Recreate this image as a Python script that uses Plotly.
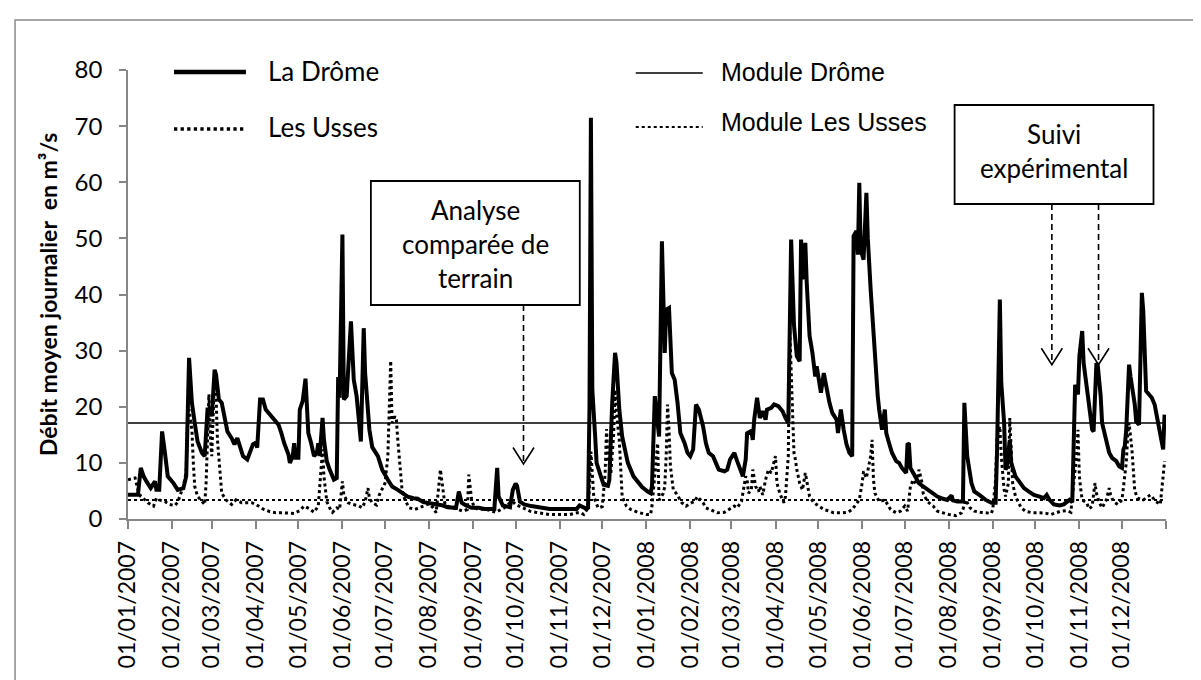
import pandas as pd
import plotly.graph_objects as go

# ---------------- data ----------------
START = "2007-01-01"
MONTH_LABELS = [f"01/{m:02d}/{y}" for y in (2007, 2008) for m in range(1, 13)]

# La Drôme : day offset from 01/01/2007 and daily mean discharge (m3/s)
drome_day = [0, 7, 9, 11, 13, 16, 19, 20, 22, 24, 26, 28, 32, 35, 39, 41, 43, 45, 47, 49,
             52, 54, 56, 58, 59, 61, 62, 64, 66, 68, 70, 73, 75, 77, 79, 81, 84, 86, 88, 90,
             91, 93, 95, 97, 100, 103, 106, 108, 110, 113, 114, 116, 117, 118, 120, 121, 123, 125, 126, 127,
             129, 131, 133, 134, 135, 137, 138, 140, 142, 145, 147, 148, 149, 151, 152, 154, 157, 159, 161, 163,
             164, 166, 167, 170, 172, 176, 179, 183, 186, 190, 194, 197, 201, 204, 208, 211, 215, 218, 222, 225,
             229, 231, 233, 235, 238, 242, 247, 251, 258, 260, 261, 264, 269, 271, 273, 274, 276, 279, 284, 290,
             297, 304, 311, 316, 318, 321, 323, 324, 325, 326, 327, 329, 330, 333, 335, 338, 339, 341, 343, 344,
             346, 348, 352, 356, 359, 362, 366, 368, 369, 371, 372, 374, 376, 378, 379, 381, 383, 385, 387, 389,
             392, 394, 396, 398, 400, 402, 405, 407, 409, 412, 414, 416, 420, 422, 424, 426, 427, 429, 431, 433,
             435, 436, 439, 440, 441, 443, 445, 447, 449, 450, 453, 455, 458, 461, 463, 465, 466, 467, 469, 470,
             471, 473, 474, 475, 477, 478, 480, 482, 484, 485, 487, 488, 490, 492, 494, 496, 499, 500, 502, 504,
             506, 508, 510, 511, 513, 514, 515, 516, 518, 520, 521, 523, 525, 527, 528, 529, 531, 533, 534, 536,
             538, 541, 543, 545, 548, 549, 550, 551, 554, 557, 560, 563, 567, 570, 574, 577, 580, 581, 584, 588,
             589, 591, 594, 596, 600, 604, 608, 611, 612, 613, 614, 615, 617, 618, 619, 621, 622, 625, 628, 631,
             635, 638, 642, 645, 647, 649, 652, 656, 659, 663, 665, 666, 667, 669, 670, 672, 673, 676, 678, 679,
             680, 682, 683, 685, 686, 689, 691, 693, 696, 698, 700, 701, 702, 703, 705, 706, 708, 709, 710, 712,
             714, 715, 717, 719, 721, 723, 725, 727, 729, 730]
drome_q = [4.3, 4.3, 9.1, 7.6, 6.7, 5.5, 6.7, 5.2, 5.2, 15.6, 11.8, 7.6, 6.4, 5.2, 5.5, 7.6, 28.7, 20.7, 17.1, 13.8,
           11.8, 11.2, 19.5, 19.5, 18.3, 26.6, 25.7, 21.3, 20.7, 18.3, 15.6, 14.4, 13.3, 14.4, 13.0, 11.2, 10.6, 11.8, 13.3, 13.6,
           12.7, 21.3, 21.3, 19.5, 18.6, 17.7, 16.8, 15.3, 13.5, 11.5, 10.0, 11.2, 13.5, 10.9, 10.9, 19.5, 21.0, 25.0, 20.7, 15.3,
           13.5, 11.2, 11.8, 13.5, 11.2, 18.0, 14.1, 10.3, 8.8, 7.0, 7.3, 25.3, 21.6, 50.7, 21.3, 21.9, 35.2, 24.8, 21.9, 16.5,
           13.8, 34.0, 26.0, 15.9, 12.8, 11.2, 8.8, 7.0, 5.8, 5.2, 4.6, 4.0, 3.7, 3.6, 3.0, 2.9, 2.6, 2.6, 2.4, 2.1,
           2.1, 2.0, 4.9, 2.9, 2.4, 2.0, 2.0, 1.8, 1.8, 9.1, 4.0, 2.4, 2.1, 5.2, 6.3, 5.9, 3.1, 2.6, 2.3, 2.0,
           1.8, 1.8, 1.8, 1.8, 2.4, 2.1, 1.8, 2.0, 20.0, 71.5, 23.0, 14.7, 10.0, 7.6, 6.1, 5.9, 7.0, 20.7, 29.6, 27.9,
           19.5, 14.7, 10.0, 7.6, 6.5, 5.7, 4.9, 4.6, 5.8, 21.9, 19.5, 14.7, 49.5, 29.6, 37.3, 37.6, 26.0, 24.8, 20.7, 15.3,
           13.5, 11.8, 11.2, 12.4, 20.4, 19.5, 16.5, 13.5, 11.8, 11.2, 10.0, 8.8, 8.5, 8.8, 10.6, 11.5, 11.8, 10.3, 8.8, 7.6,
           10.6, 15.3, 15.7, 14.1, 17.7, 21.6, 18.0, 19.2, 17.7, 19.5, 19.8, 20.4, 20.1, 19.2, 18.0, 17.1, 33.2, 49.8, 34.6, 32.0,
           29.0, 28.1, 49.8, 42.7, 49.2, 42.0, 32.6, 29.6, 25.4, 27.2, 23.6, 22.5, 26.0, 23.1, 20.7, 18.9, 17.7, 15.3, 19.5, 15.9,
           13.3, 11.8, 11.2, 50.4, 51.3, 47.1, 59.9, 48.0, 46.2, 58.1, 50.0, 40.9, 33.2, 23.6, 21.9, 19.5, 15.9, 19.5, 15.3, 13.5,
           11.8, 10.3, 10.0, 9.1, 8.2, 13.5, 13.3, 9.1, 7.6, 6.4, 5.8, 5.2, 4.6, 4.0, 3.6, 3.4, 4.2, 3.3, 3.1, 3.1,
           20.7, 11.2, 6.4, 4.9, 4.2, 3.4, 2.9, 2.9, 11.8, 28.7, 39.1, 24.2, 17.1, 8.8, 9.4, 14.1, 10.0, 7.6, 6.4, 5.5,
           4.8, 4.3, 4.0, 3.7, 4.3, 3.4, 2.6, 2.4, 2.6, 3.4, 3.0, 17.1, 23.9, 22.2, 29.0, 33.5, 27.8, 21.9, 17.1, 15.9,
           15.6, 27.8, 27.2, 21.9, 17.1, 13.5, 11.8, 10.9, 10.3, 9.4, 9.1, 12.4, 13.0, 15.9, 27.5, 25.4, 21.9, 20.4, 17.4, 16.8,
           40.3, 37.0, 22.8, 22.2, 21.6, 20.4, 17.4, 14.4, 12.4, 18.6]

# Les Usses
usses_day = [0, 5, 7, 9, 12, 14, 18, 20, 22, 26, 29, 33, 35, 37, 39, 41, 42, 43, 45, 46,
             47, 49, 52, 54, 55, 57, 58, 59, 61, 62, 63, 65, 66, 69, 73, 76, 80, 83, 87, 90,
             95, 100, 104, 109, 114, 117, 121, 124, 128, 131, 134, 136, 137, 138, 140, 142, 144, 147, 149, 151,
             152, 155, 158, 162, 165, 167, 169, 170, 172, 175, 177, 181, 183, 185, 186, 188, 189, 190, 192, 193,
             195, 198, 202, 205, 209, 212, 215, 217, 220, 222, 223, 225, 229, 232, 236, 239, 240, 242, 244, 247,
             251, 255, 259, 265, 269, 271, 273, 278, 283, 287, 292, 297, 302, 306, 311, 316, 319, 321, 324, 325,
             326, 327, 328, 331, 334, 336, 337, 338, 340, 342, 343, 344, 346, 348, 351, 354, 359, 365, 368, 369,
             370, 371, 372, 373, 374, 375, 377, 378, 379, 380, 381, 382, 384, 386, 390, 393, 397, 399, 401, 405,
             407, 411, 415, 420, 424, 427, 429, 432, 433, 435, 436, 437, 439, 440, 442, 444, 445, 447, 449, 451,
             453, 455, 456, 457, 459, 461, 462, 463, 465, 466, 468, 469, 470, 471, 473, 475, 477, 479, 480, 483,
             487, 490, 494, 497, 502, 507, 510, 515, 517, 518, 520, 521, 523, 524, 525, 526, 529, 533, 535, 537,
             541, 544, 547, 549, 551, 553, 555, 556, 557, 559, 560, 563, 567, 570, 574, 578, 583, 587, 588, 590,
             593, 596, 600, 604, 608, 609, 611, 612, 614, 615, 616, 617, 618, 620, 621, 622, 623, 625, 627, 629,
             632, 637, 642, 647, 650, 654, 657, 661, 664, 666, 668, 669, 670, 671, 672, 675, 677, 679, 681, 682,
             684, 686, 689, 691, 692, 694, 697, 700, 703, 704, 705, 707, 709, 711, 715, 720, 724, 727, 730]
usses_q = [7.0, 7.3, 5.2, 4.0, 3.4, 2.9, 2.3, 3.7, 3.4, 3.1, 2.6, 2.4, 3.0, 4.3, 5.8, 8.5, 18.3, 19.5, 15.9, 10.0,
           5.8, 4.0, 3.1, 2.6, 6.4, 22.2, 14.7, 11.2, 26.3, 21.9, 14.1, 7.6, 4.6, 3.4, 2.6, 3.4, 2.9, 2.9, 2.9, 2.6,
           1.8, 1.3, 1.1, 1.1, 1.0, 1.0, 1.5, 2.3, 1.8, 1.2, 2.3, 9.4, 12.4, 7.6, 3.1, 2.0, 1.2, 2.0, 1.7, 6.7,
           4.3, 2.9, 2.6, 2.4, 2.0, 3.1, 5.5, 3.7, 2.9, 2.5, 4.3, 6.4, 11.2, 28.2, 17.1, 18.3, 17.7, 14.1, 8.8, 5.2,
           3.4, 2.0, 1.7, 2.0, 2.3, 2.7, 2.0, 1.1, 8.8, 5.2, 2.9, 2.3, 2.0, 1.7, 1.4, 1.7, 7.9, 3.4, 2.0, 1.7,
           1.8, 1.5, 1.2, 2.0, 2.9, 3.1, 2.6, 2.0, 1.4, 1.2, 1.0, 0.8, 0.8, 0.8, 0.8, 1.1, 1.1, 0.8, 2.0, 6.0,
           12.0, 8.0, 4.0, 2.0, 2.2, 8.0, 16.0, 11.0, 8.0, 15.0, 23.0, 19.0, 14.0, 4.0, 2.3, 1.7, 1.2, 0.8, 0.8, 2.3,
           5.2, 7.6, 10.0, 13.5, 3.4, 3.7, 4.6, 5.8, 11.2, 20.4, 15.9, 9.4, 5.2, 4.6, 2.9, 2.3, 2.9, 3.1, 4.0, 2.9,
           2.0, 1.5, 1.1, 1.2, 1.8, 2.3, 2.0, 3.1, 4.6, 7.6, 7.0, 4.6, 5.2, 8.8, 5.8, 4.9, 5.8, 4.3, 7.0, 8.8,
           8.2, 10.0, 11.2, 6.4, 4.6, 3.4, 2.9, 4.0, 11.2, 34.0, 17.1, 11.8, 10.6, 8.8, 6.4, 5.2, 8.2, 5.2, 4.0, 2.9,
           2.3, 1.7, 1.4, 1.1, 1.1, 1.2, 1.7, 3.4, 6.4, 8.5, 7.3, 8.8, 11.2, 14.1, 7.0, 4.6, 3.1, 3.4, 2.6, 1.7,
           1.1, 1.4, 2.3, 1.4, 5.8, 7.0, 6.1, 7.0, 8.8, 6.7, 4.6, 3.1, 2.3, 1.4, 1.1, 0.8, 0.6, 1.1, 1.7, 3.4,
           2.0, 1.4, 1.2, 1.1, 1.0, 1.7, 7.0, 14.7, 16.5, 11.2, 7.6, 5.2, 4.0, 6.4, 18.0, 11.2, 6.4, 4.0, 2.9, 2.0,
           1.4, 1.1, 1.1, 1.0, 0.8, 1.1, 1.4, 1.5, 1.2, 6.4, 11.2, 15.9, 7.6, 5.2, 3.4, 2.9, 1.8, 2.3, 6.4, 4.6,
           2.9, 2.0, 3.4, 5.5, 4.3, 3.1, 2.6, 3.4, 10.0, 14.7, 17.1, 12.4, 5.0, 3.7, 3.4, 4.3, 3.1, 2.6, 10.3]

MODULE_DROME = 17.1
MODULE_USSES = 3.4

SERIES_NAMES = ["La Drôme", "Les Usses", "Module Drôme", "Module Les Usses"]
BOX_TEXTS = ["Analyse<br>comparée de<br>terrain", "Suivi<br>expérimental"]
Y_TITLE = "Débit moyen journalier  en m³/s"

# ---------------- helpers ----------------
t0 = pd.Timestamp(START)
def to_dates(days):
    return [(t0 + pd.Timedelta(days=int(d))).strftime("%Y-%m-%d") for d in days]

month_starts = pd.date_range("2007-01-01", "2009-01-01", freq="MS")
tickvals = [d.strftime("%Y-%m-%d") for d in month_starts]
ticktext = MONTH_LABELS + [""]

W, H = 1201, 680
L, R, T, B = 120, 1158.5, 62, 511
def px(x):
    return (x - L) / (R - L)
def py(y):
    return (B - y) / (B - T)

CAL = "Lato, Carlito, Calibri, sans-serif"
ARIAL = "Liberation Sans, Arial, sans-serif"
AX = "#868686"

fig = go.Figure()
fig.add_trace(go.Scatter(x=to_dates(usses_day), y=usses_q, mode="lines",
                         line=dict(color="black", width=3, dash="dot"), name=SERIES_NAMES[1]))
fig.add_trace(go.Scatter(x=to_dates(drome_day), y=drome_q, mode="lines",
                         line=dict(color="black", width=4), name=SERIES_NAMES[0]))
fig.add_trace(go.Scatter(x=["2007-01-01", "2009-01-01"], y=[MODULE_DROME] * 2, mode="lines",
                         line=dict(color="black", width=1.5), name=SERIES_NAMES[2]))
fig.add_trace(go.Scatter(x=["2007-01-01", "2009-01-01"], y=[MODULE_USSES] * 2, mode="lines",
                         line=dict(color="black", width=2, dash="dot"), name=SERIES_NAMES[3]))

shapes = []
annotations = []

# outer border
shapes.append(dict(type="rect", xref="paper", yref="paper", x0=px(7), x1=px(1193), y0=py(730), y1=py(12),
                   line=dict(color="#898989", width=1.5), layer="below"))

# legend (manual)
leg = [(166, 238, 64, dict(color="black", width=4.5), 258, 63, SERIES_NAMES[0], CAL, 26),
       (166, 238, 121, dict(color="black", width=3.3, dash="dot"), 258, 119, SERIES_NAMES[1], CAL, 26),
       (628, 695, 65, dict(color="black", width=1.5), 711, 64, SERIES_NAMES[2], ARIAL, 25),
       (628, 695, 119, dict(color="black", width=2, dash="dot"), 711, 114, SERIES_NAMES[3], ARIAL, 25)]
for x0, x1, yy, ln, tx, ty, txt, fam, fs in leg:
    shapes.append(dict(type="line", xref="paper", yref="paper", x0=px(x0), x1=px(x1), y0=py(yy), y1=py(yy), line=ln))
    annotations.append(dict(xref="paper", yref="paper", x=px(tx), y=py(ty), xanchor="left", yanchor="middle",
                            text=txt, showarrow=False, font=dict(family=fam, size=fs, color="black")))

# annotation boxes
boxes = [((363, 173, 572, 297), BOX_TEXTS[0], 236),
         ((947, 97, 1146, 196), BOX_TEXTS[1], 143)]
for (x0, y0, x1, y1), txt, cy in boxes:
    shapes.append(dict(type="rect", xref="paper", yref="paper", x0=px(x0), x1=px(x1), y0=py(y1), y1=py(y0),
                       line=dict(color="black", width=1.8), fillcolor="white"))
    annotations.append(dict(xref="paper", yref="paper", x=px((x0 + x1) / 2), y=py(cy), xanchor="center",
                            yanchor="middle", text=txt, showarrow=False,
                            font=dict(family=CAL, size=26, color="black")))

# dashed arrows
arrows = [(515.7, 297, 456), (1044.3, 196, 356.7), (1091, 196, 356.7)]
for ax, ytop, ytip in arrows:
    shapes.append(dict(type="line", xref="paper", yref="paper", x0=px(ax), x1=px(ax), y0=py(ytop), y1=py(ytip),
                       line=dict(color="black", width=1.6, dash="6px,4px")))
    path = f"M {px(ax-10.5)} {py(ytip-16.5)} L {px(ax)} {py(ytip)} L {px(ax+10.5)} {py(ytip-16.5)}"
    shapes.append(dict(type="path", xref="paper", yref="paper", path=path, line=dict(color="black", width=1.6)))

# y title
annotations.append(dict(xref="paper", yref="paper", x=px(40), y=py(287), xanchor="center", yanchor="middle",
                        text=Y_TITLE, textangle=-90, showarrow=False,
                        font=dict(family=CAL, size=23, color="black", weight="bold")))

fig.update_layout(
    width=W, height=H, margin=dict(l=L, r=W - R, t=T, b=H - B, autoexpand=False),
    paper_bgcolor="white", plot_bgcolor="white", showlegend=False,
    shapes=shapes, annotations=annotations,
    xaxis=dict(type="date", range=["2007-01-01", "2009-01-01"], tickmode="array", tickvals=tickvals,
               ticktext=ticktext, tickangle=-90, ticks="outside", ticklen=8, tickwidth=1.5, tickcolor=AX,
               showline=True, linecolor=AX, linewidth=1.5, showgrid=False, zeroline=False,
               ticklabelstandoff=3,
               tickfont=dict(family=CAL, size=23, color="black"), automargin=False),
    yaxis=dict(range=[0, 80], tickmode="linear", tick0=0, dtick=10, ticks="outside", ticklen=7, tickwidth=1.5,
               tickcolor=AX, showline=True, linecolor=AX, linewidth=1.5, showgrid=False, zeroline=False,
               ticklabelstandoff=12,
               tickfont=dict(family=CAL, size=24, color="black"), automargin=False),
)

fig.write_html("out.html")
